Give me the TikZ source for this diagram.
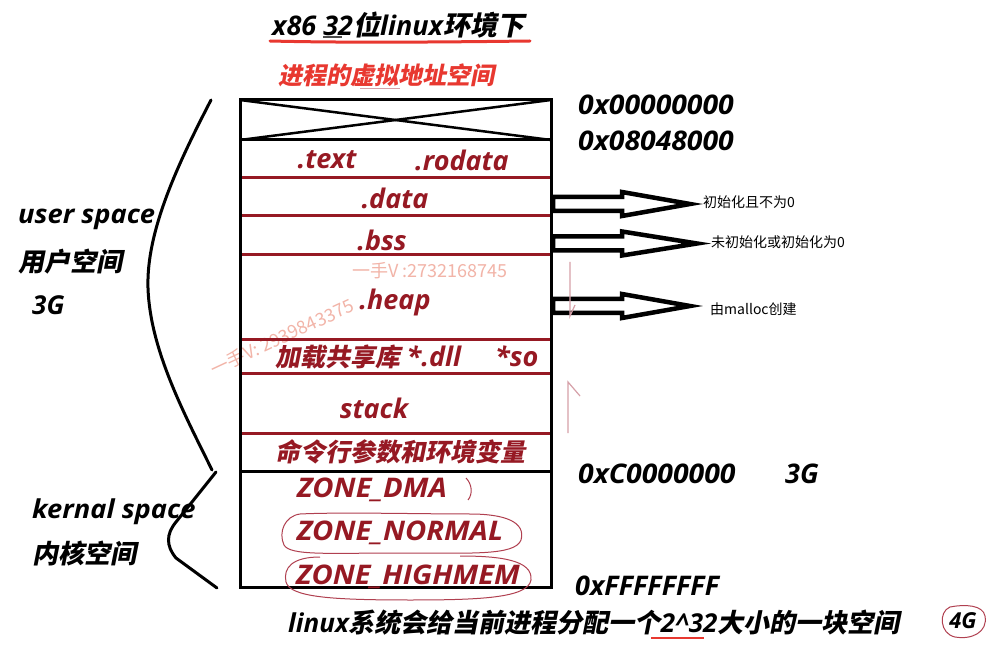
\documentclass[tikz,border=0pt]{standalone}
\usepackage{fontspec}
\newfontfamily\lat{Open Sans}
\newfontfamily\zhf{Noto Sans CJK SC}[FakeSlant=0.2, BoldFeatures={FakeSlant=0.2}]
\newfontfamily\zhr{Noto Sans CJK SC}
\newcommand\BI{\lat\bfseries\itshape}
\newcommand\ZH[1]{{\zhf\bfseries #1}}
\newcommand\fs[1]{\fontsize{#1}{#1}\selectfont}
\definecolor{dred}{RGB}{150,25,35}
\definecolor{tred}{RGB}{232,56,48}
\definecolor{pen}{RGB}{176,64,80}
\definecolor{wm}{RGB}{242,180,168}
\definecolor{thinc}{RGB}{214,160,168}
\tikzset{
  blk/.style={line width=3pt, black},
  redline/.style={line width=3pt, dred},
  seg/.style={text=dred, inner sep=0pt, font=\fs{27}\BI},
  segzh/.style={text=dred, inner sep=0pt, anchor=west, font=\fs{25}\BI},
  addr/.style={inner sep=0pt, anchor=west, font=\fs{27}\BI},
  side/.style={inner sep=0pt, anchor=west, font=\fs{26}\BI},
  note/.style={inner sep=0pt, anchor=west, font=\fs{14}\zhr},
  hollow/.style={line width=4.5pt, black, fill=white, line join=miter},
  penline/.style={line width=1pt, pen},
  thinarrow/.style={line width=1.2pt, thinc},
  brace/.style={line width=3pt, black, line cap=round}
}
\begin{document}
\begin{tikzpicture}[x=1pt,y=-1pt]
\useasboundingbox (0,0) rectangle (1002,660);
\fill[white] (0,0) rectangle (1002,660);

% title
\node[inner sep=0pt, anchor=west, font=\fs{27}\BI] (title) at (272,25) {x86 32\ZH{位}linux\ZH{环境下}};
\draw[line width=3pt, tred, line cap=round] (270,41) .. controls (350,43) and (450,42) .. (530,41);
\draw[line width=2pt, black!70] (323,37) -- (342,37);
\node[inner sep=0pt, anchor=west, text=tred, font=\fs{24}] (sub) at (278,75) {\ZH{进程的虚拟地址空间}};
\draw[line width=1pt, thinc] (360,89) -- (400,89);

% watermarks
\node[inner sep=0pt, anchor=west, text=wm, font=\fs{18}\zhr] (wm1) at (352,271) {一手V :2732168745};
\node[inner sep=0pt, text=wm, font=\fs{18}\zhr, rotate=25] (wm2) at (282,337) {一手V: 2939843375};

% red separators
\foreach \yy in {178,216,255,340,374,433}
  \draw[redline] (240,\yy) -- (551,\yy);
% box
\draw[blk] (240,100) rectangle (551,587);
\draw[blk] (240,140) -- (551,140);
\draw[blk] (240,471) -- (551,471);
\draw[line width=2.5pt] (240,100) -- (551,140);
\draw[line width=2.5pt] (551,100) -- (240,140);

% segment labels
\node[seg] (text) at (327,160) {.text};
\node[seg] (rodata) at (462,160) {.rodata};
\node[seg] (data) at (395,198) {.data};
\node[seg] (bss) at (382,240) {.bss};
\node[seg] (heap) at (395,302) {.heap};
\node[segzh] (shlib) at (275,357) {\ZH{加载共享库} {\fs{27}*.dll\hspace{34pt}*so}};
\node[seg] (stack) at (374,408) {stack};
\node[segzh] (args) at (275,452) {\ZH{命令行参数和环境变量}};
\node[seg, xscale=1.08] (dma) at (372,490) {ZONE\_DMA};
\node[seg, xscale=1.08] (normal) at (400,533) {ZONE\_NORMAL};
\node[seg, xscale=1.08] (high) at (408,577) {ZONE\_HIGHMEM};

% hand drawn marks around zones
\draw[penline] (466,478) .. controls (472,484) and (473,494) .. (468,500);
\draw[penline] (300,514) .. controls (285,516) and (278,532) .. (284,545)
  .. controls (290,556) and (330,553) .. (400,553)
  .. controls (470,553) and (515,556) .. (521,540)
  .. controls (526,522) and (505,514) .. (470,514)
  .. controls (420,514) and (340,512) .. (300,514);
\draw[penline] (320,557) .. controls (292,557) and (283,568) .. (286,582)
  .. controls (290,597) and (330,600) .. (410,600)
  .. controls (480,600) and (528,598) .. (531,580)
  .. controls (533,560) and (500,556) .. (460,556);

% addresses
\node[addr, xscale=1.05] (a0) at (578,105) {0x00000000};
\node[addr, xscale=1.05] (a1) at (578,141) {0x08048000};
\node[addr, xscale=1.05] (a2) at (578,474) {0xC0000000};
\node[addr] (g3) at (785,474) {3G};
\node[addr] (a3) at (575,586) {0xFFFFFFFF};

% hollow arrows
\draw[hollow] (553,197) -- (622,197) -- (622,192) -- (690,204) -- (622,216) -- (622,211) -- (553,211) -- cycle;
\draw[hollow] (553,236.5) -- (622,236.5) -- (622,231.5) -- (697,243.5) -- (622,255.5) -- (622,250.5) -- (553,250.5) -- cycle;
\draw[hollow] (553,299) -- (622,299) -- (622,294) -- (690,306) -- (622,318) -- (622,313) -- (553,313) -- cycle;
\node[note] (n1) at (703,202) {初始化且不为0};
\node[note] (n2) at (711,242) {未初始化或初始化为0};
\node[note] (n3) at (710,309) {由malloc创建};

% thin growth arrows
\coordinate (d0) at (570,262); \coordinate (d1) at (570,316);
\draw[thinarrow] (d0) -- (d1) -- (575,305);
\coordinate (u0) at (568,433); \coordinate (u1) at (568,382);
\draw[thinarrow] (u0) -- (u1) -- (580,396);

% left braces
\draw[brace] (211,100) .. controls (180,160) and (146,230) .. (148,288)
  .. controls (150,350) and (185,415) .. (212,470);
\draw[brace] (216,472) -- (176,522) .. controls (166,534) and (166,546) .. (176,558) -- (217,588);
\node[side, xscale=1.05] (us) at (18,219) {user space};
\node[side] (usz) at (18,262) {\ZH{用户空间}};
\node[side] (us3) at (32,305) {3G};
\node[side, xscale=1.05] (ks) at (32,512) {kernal space};
\node[side] (ksz) at (32,553) {\ZH{内核空间}};

% bottom sentence
\node[inner sep=0pt, anchor=west, font=\fs{26}\BI] (bottom) at (288,623) {linux\ZH{系统会给当前进程分配一个}2\textasciicircum32\ZH{大小的一块空间}};
\draw[line width=2.5pt, tred] (651,638) -- (704,638);
\node[inner sep=0pt, font=\fs{22}\BI] (g4) at (963,621) {4G};
\draw[penline] (950,607) .. controls (938,612) and (940,634) .. (955,637)
  .. controls (972,640) and (988,632) .. (985,616) .. controls (983,605) and (965,604) .. (950,607);
\end{tikzpicture}
\end{document}
